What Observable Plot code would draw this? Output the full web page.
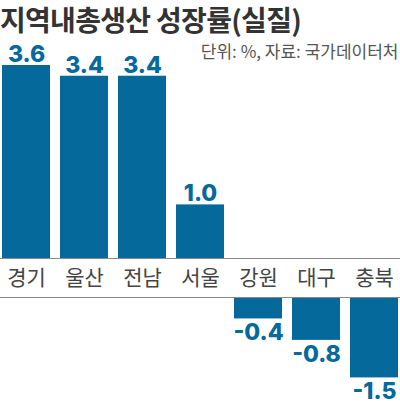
<!DOCTYPE html>
<html>
<head>
<meta charset="utf-8">
<script src="https://cdn.jsdelivr.net/npm/d3@7"></script>
<script src="https://cdn.jsdelivr.net/npm/@observablehq/plot@0.6"></script>
<style>
  body { margin: 0; background: #fff; width: 400px; }
  .title {
    height: 38px;
    line-height: 38px;
    font-family: "Noto Sans CJK KR", sans-serif;
    font-weight: 700;
    font-size: 28px;
    letter-spacing: -0.7px;
    color: #333;
    white-space: nowrap;
  }
  #chart svg { display: block; overflow: visible; }
</style>
</head>
<body>
<div class="title">지역내총생산 성장률(실질)</div>
<div id="chart"></div>
<script>
const regions = ["경기", "울산", "전남", "서울", "강원", "대구", "충북"];
const growth = [3.6, 3.4, 3.4, 1.0, -0.4, -0.8, -1.5];
const note = "단위: %, 자료: 국가데이터처";

const rows = regions.map((region, i) => ({region, value: growth[i]}));
const up = rows.filter((d) => d.value >= 0);
const down = rows.filter((d) => d.value < 0);

const blue = "#06699c";
const gap = 39; // label band between the two baselines
const numFont = "Inter, sans-serif";
const krFont = "'Noto Sans CJK KR', sans-serif";

const plot = Plot.plot({
  width: 400,
  height: 370,
  margin: 0,
  x: {domain: regions, range: [0, 400], paddingInner: 0.17, paddingOuter: 0, axis: null},
  y: {domain: [0, 3.6], range: [220, 27], axis: null},
  marks: [
    Plot.barY(up, {x: "region", y: "value", fill: blue}),
    Plot.barY(down, {x: "region", y: "value", fill: blue, dy: gap}),
    Plot.ruleY([0], {stroke: "#8a8a8a", strokeWidth: 1}),
    Plot.ruleY([0], {stroke: "#8a8a8a", strokeWidth: 1, dy: gap}),
    Plot.text(up, {
      x: "region", y: "value", text: (d) => d.value.toFixed(1),
      dy: -11, fill: blue, fontSize: 23, fontWeight: 800, fontFamily: numFont
    }),
    Plot.text(down, {
      x: "region", y: "value", text: (d) => d.value.toFixed(1),
      dy: gap + 14, fill: blue, fontSize: 23, fontWeight: 800, fontFamily: numFont
    }),
    Plot.text(rows, {
      x: "region", y: () => 0, text: "region",
      dy: 20, fill: "#444", fontSize: 21, fontFamily: krFont
    }),
    Plot.text([note], {
      frameAnchor: "top-right", text: (d) => d, textAnchor: "end", lineAnchor: "middle",
      dx: -2, dy: 14, fill: "#555", fontSize: 17, fontFamily: krFont
    })
  ]
});

document.querySelector("#chart").append(plot);
</script>
</body>
</html>
